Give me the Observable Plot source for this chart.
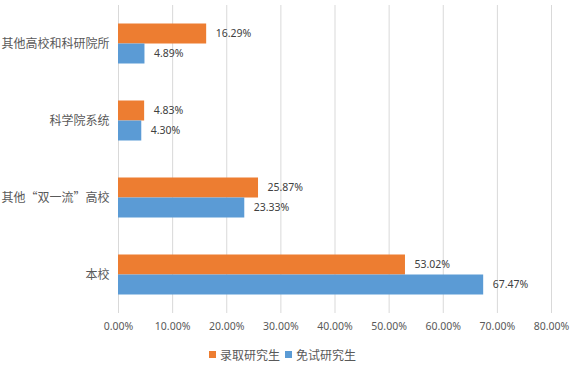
<!DOCTYPE html>
<html>
<head>
<meta charset="utf-8">
<script src="https://cdn.jsdelivr.net/npm/d3@7"></script>
<script src="https://cdn.jsdelivr.net/npm/@observablehq/plot@0.6"></script>
<style>
  html, body { margin: 0; padding: 0; background: #fff; }
  #legend { position: relative; height: 27px; width: 573px; font-family: "Noto Sans CJK SC", "Noto Sans", sans-serif; font-size: 12px; color: #595959; }
  .item { position: absolute; top: 6px; display: flex; align-items: center; }
  .sw { width: 7px; height: 7px; margin-right: 4px; }
</style>
</head>
<body>
<div id="chart"></div>
<div id="legend"></div>
<script>
const categories = ["其他高校和科研院所", "科学院系统", "其他“双一流”高校", "本校"];
const series = ["录取研究生", "免试研究生"];
const admitted = [16.29, 4.83, 25.87, 53.02];
const exempt = [4.89, 4.30, 23.33, 67.47];
const xTicks = [0, 10, 20, 30, 40, 50, 60, 70, 80];
const colors = ["#ED7D31", "#5B9BD5"];

const dataA = categories.map((c, i) => ({category: c, series: series[0], value: admitted[i]}));
const dataB = categories.map((c, i) => ({category: c, series: series[1], value: exempt[i]}));

const chart = Plot.plot({
  width: 573,
  height: 340,
  marginLeft: 118,
  marginRight: 22,
  marginTop: 5,
  marginBottom: 27,
  style: {fontFamily: "'Noto Sans', 'Noto Sans CJK SC', sans-serif", background: "#fff"},
  x: {domain: [0, 80]},
  y: {domain: categories, padding: 0},
  color: {domain: series, range: colors},
  marks: [
    Plot.gridX(xTicks, {stroke: "#d9d9d9", strokeOpacity: 1, strokeWidth: 1}),
    Plot.axisX(xTicks, {tickSize: 0, tickPadding: 9, tickFormat: d => d.toFixed(2) + "%", fill: "#595959", fontSize: 10.5, label: null}),
    Plot.axisY({tickSize: 0, tickPadding: 9, fill: "#595959", fontSize: 12, fontFamily: "'Noto Sans CJK SC', sans-serif", label: null}),
    Plot.barX(dataA, {x: "value", y: "category", fill: "series", insetTop: 18.5, insetBottom: 38.5}),
    Plot.barX(dataB, {x: "value", y: "category", fill: "series", insetTop: 38.5, insetBottom: 18.5}),
    Plot.text(dataA, {x: "value", y: "category", text: d => d.value.toFixed(2) + "%", textAnchor: "start", dx: 9, dy: -10, fill: "#404040", fontSize: 10.5}),
    Plot.text(dataB, {x: "value", y: "category", text: d => d.value.toFixed(2) + "%", textAnchor: "start", dx: 9, dy: 10, fill: "#404040", fontSize: 10.5})
  ]
});
document.getElementById("chart").appendChild(chart);

const legend = document.getElementById("legend");
const lefts = [209, 285];
series.forEach((s, i) => {
  const item = document.createElement("div");
  item.className = "item";
  item.style.left = lefts[i] + "px";
  const sw = document.createElement("span");
  sw.className = "sw";
  sw.style.background = colors[i];
  const t = document.createElement("span");
  t.textContent = s;
  item.appendChild(sw);
  item.appendChild(t);
  legend.appendChild(item);
});
</script>
</body>
</html>
